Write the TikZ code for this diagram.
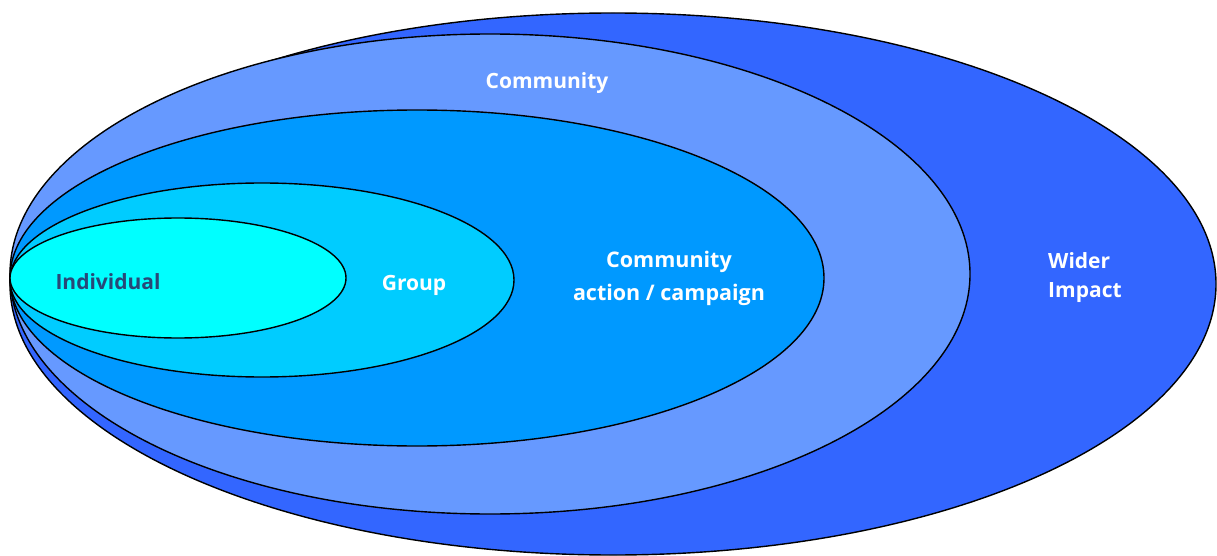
\documentclass[tikz,border=0pt]{standalone}
\usepackage{fontspec}
\setmainfont{Open Sans}
\definecolor{cWider}{HTML}{3366FF}
\definecolor{cComm}{HTML}{6699FF}
\definecolor{cAction}{HTML}{0099FF}
\definecolor{cGroup}{HTML}{00CCFF}
\definecolor{cIndiv}{HTML}{00FFFF}
\definecolor{cIndText}{RGB}{40,72,120}
\begin{document}
\begin{tikzpicture}[x=1pt,y=-1pt,
  ring/.style={draw=black,line width=1.4pt},
  lbl/.style={font=\fontsize{21}{31}\selectfont\bfseries,text=white,inner sep=0pt,anchor=base}]
\useasboundingbox (0,0) rectangle (1217,556);
\fill[white] (0,0) rectangle (1217,556);
\draw[ring,fill=cWider]  (613,284) ellipse [x radius=603pt,y radius=271pt];
\draw[ring,fill=cComm]   (490,274) ellipse [x radius=480pt,y radius=240pt];
\draw[ring,fill=cAction] (417,278) ellipse [x radius=407pt,y radius=168pt];
\draw[ring,fill=cGroup]  (262,280) ellipse [x radius=252pt,y radius=97pt];
\draw[ring,fill=cIndiv]  (178,278) ellipse [x radius=168pt,y radius=60pt];
\node[lbl] (comm) at (547,89) {Community};
\node[lbl,align=center,font=\fontsize{21.5}{33}\selectfont\bfseries] (action) at (669,300) {Community\\action / campaign};
\node[lbl,anchor=base west,align=left,font=\fontsize{21}{29}\selectfont\bfseries] (wider) at (1048,297) {Wider\\Impact};
\node[lbl] (group) at (414,290) {Group};
\node[lbl,text=cIndText] (indiv) at (108,289) {Individual};
\end{tikzpicture}
\end{document}
